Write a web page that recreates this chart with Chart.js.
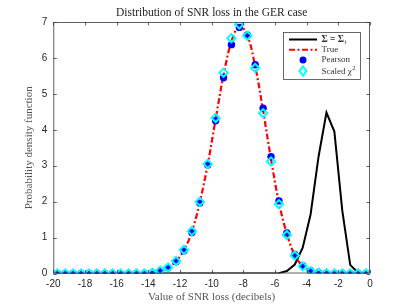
<!DOCTYPE html>
<html><head><meta charset="utf-8">
<script src="https://cdn.jsdelivr.net/npm/chart.js@4"></script>
<style>html,body{margin:0;padding:0;background:#fff;}#wrap{width:409px;height:307px;}</style>
</head><body><div id="wrap"><canvas id="c" width="409" height="307"></canvas></div>
<script>
// bin centres (dB)
const binCenters = [-19.75,-19.25,-18.75,-18.25,-17.75,-17.25,-16.75,-16.25,-15.75,-15.25,-14.75,-14.25,-13.75,-13.25,-12.75,-12.25,-11.75,-11.25,-10.75,-10.25,-9.75,-9.25,-8.75,-8.25,-7.75,-7.25,-6.75,-6.25,-5.75,-5.25,-4.75,-4.25,-3.75,-3.25,-2.75,-2.25,-1.75,-1.25,-0.75,-0.25];
const sigmaTrue = [0,0,0,0,0,0,0,0,0,0,0,0,0,0,0,0,0,0,0,0,0,0,0,0,0,0,0,0,0.01,0.07,0.25,0.72,1.65,3.25,4.48,3.95,1.75,0.24,0.02,0];
const trueVals  = [0,0,0,0,0,0,0,0,0,0,0,0,0.02,0.075,0.165,0.34,0.645,1.16,1.98,3.03,4.29,5.52,6.46,6.89,6.63,5.77,4.53,3.18,1.97,1.10,0.51,0.21,0.075,0.025,0.01,0,0,0,0,0];
const pearson   = [0,0,0,0,0,0,0,0,0,0,0,0,0.02,0.07,0.16,0.33,0.63,1.14,1.96,3.02,4.25,5.45,6.37,6.85,6.64,5.81,4.60,3.25,2.02,1.13,0.53,0.22,0.08,0.03,0.01,0,0,0,0,0];
const scaledChi = [0,0,0,0,0,0,0,0,0,0,0,0,0.02,0.08,0.17,0.35,0.66,1.18,2.00,3.05,4.33,5.59,6.55,6.93,6.62,5.72,4.46,3.12,1.93,1.07,0.50,0.20,0.07,0.02,0.01,0,0,0,0,0];
const xTicks = [-20,-18,-16,-14,-12,-10,-8,-6,-4,-2,0];
const yTicks = [0,1,2,3,4,5,6,7];
const titleText = 'Distribution of SNR loss in the GER case';
const xTitle = 'Value of SNR loss (decibels)';
const yTitle = 'Probability density function';

const pts = arr => binCenters.map((x,i)=>({x:x,y:arr[i]}));
const AX = '#262626';
const SERIF = '"Liberation Serif","DejaVu Serif",serif';
const SANS = '"Liberation Sans",Arial,sans-serif';

const decor = {
  id:'decor',
  afterDraw(chart){
    const ctx = chart.ctx, a = chart.chartArea;
    const xs = chart.scales.x, ys = chart.scales.y;
    ctx.save();
    // box
    ctx.strokeStyle = '#3a3a3a'; ctx.lineWidth = 0.8;
    ctx.strokeRect(a.left+0.5, a.top+0.5, a.right-a.left-1, a.bottom-a.top-1);
    // inward ticks
    ctx.beginPath();
    xTicks.forEach(v=>{const px=Math.round(xs.getPixelForValue(v))+0.5;
      ctx.moveTo(px,a.bottom); ctx.lineTo(px,a.bottom-3.5);
      ctx.moveTo(px,a.top); ctx.lineTo(px,a.top+3.5);});
    yTicks.forEach(v=>{const py=Math.round(ys.getPixelForValue(v))+0.5;
      ctx.moveTo(a.left,py); ctx.lineTo(a.left+3.5,py);
      ctx.moveTo(a.right,py); ctx.lineTo(a.right-3.5,py);});
    ctx.stroke();
    // titles
    ctx.fillStyle = '#222';
    ctx.font = '11.5px '+SERIF; ctx.textAlign='center'; ctx.textBaseline='middle';
    ctx.fillText(titleText, (a.left+a.right)/2, 13);
    ctx.fillStyle = '#555';
    ctx.font = '11px '+SERIF;
    ctx.fillText(xTitle, (a.left+a.right)/2, 297);
    ctx.save(); ctx.translate(29, (a.top+a.bottom)/2); ctx.rotate(-Math.PI/2);
    ctx.fillText(yTitle, 0, 0); ctx.restore();
    // legend
    const lx=283, ly=32, lw=77, lh=47;
    ctx.fillStyle='#fff'; ctx.fillRect(lx,ly,lw,lh);
    ctx.strokeStyle='#444'; ctx.lineWidth=0.8; ctx.strokeRect(lx+0.5,ly+0.5,lw,lh);
    const rows=[39.5,49.8,60,71];
    const sx0=289, sx1=317, tx=321.5;
    ctx.lineWidth=2; ctx.strokeStyle='#000'; ctx.setLineDash([]);
    ctx.beginPath(); ctx.moveTo(sx0,rows[0]); ctx.lineTo(sx1,rows[0]); ctx.stroke();
    ctx.strokeStyle='#ff0000'; ctx.setLineDash([6,2.5,2,2.5]);
    ctx.beginPath(); ctx.moveTo(sx0,rows[1]); ctx.lineTo(sx1,rows[1]); ctx.stroke();
    ctx.setLineDash([]);
    ctx.fillStyle='#0000ff'; ctx.beginPath(); ctx.arc(303,rows[2],3.5,0,Math.PI*2); ctx.fill();
    ctx.strokeStyle='#00ffff'; ctx.lineWidth=2;
    ctx.beginPath(); ctx.moveTo(303,rows[3]-4.5); ctx.lineTo(306.5,rows[3]); ctx.lineTo(303,rows[3]+4.5); ctx.lineTo(299.5,rows[3]); ctx.closePath(); ctx.stroke();
    ctx.fillStyle='#333'; ctx.textAlign='left'; ctx.textBaseline='middle';
    ctx.font='bold 9.5px '+SERIF;
    let t1='Σ = Σ'; ctx.fillText(t1,tx,rows[0]);
    let w1=ctx.measureText(t1).width;
    ctx.font='italic 6.5px '+SERIF; ctx.fillText('t',tx+w1+0.5,rows[0]+2.5);
    ctx.font='9px '+SERIF;
    ctx.fillText('True',tx,rows[1]);
    ctx.fillText('Pearson',tx,rows[2]);
    let t4='Scaled χ'; ctx.fillText(t4,tx,rows[3]+0.5);
    let w4=ctx.measureText(t4).width;
    ctx.font='6.5px '+SERIF; ctx.fillText('2',tx+w4+0.5,rows[3]-2.5);
    ctx.restore();
  }
};

new Chart(document.getElementById('c'),{
  type:'line',
  data:{datasets:[
    {label:'sigma',data:pts(sigmaTrue),borderColor:'#000',borderWidth:2,pointRadius:0,tension:0,order:4},
    {label:'True',data:pts(trueVals),borderColor:'#ff0000',borderWidth:2.2,borderDash:[6,2.5,2,2.5],pointRadius:0,tension:0.35,order:3},
    {label:'Pearson',data:pts(pearson),showLine:false,pointStyle:'circle',pointRadius:3.7,pointBackgroundColor:'#0000ff',pointBorderColor:'#0000ff',pointBorderWidth:0,order:2},
    {label:'Scaled',data:pts(scaledChi),showLine:false,pointStyle:'rectRot',pointRadius:4.1,pointBackgroundColor:'rgba(0,0,0,0)',pointBorderColor:'#00ffff',pointBorderWidth:2,order:1}
  ]},
  options:{
    responsive:false,animation:false,
    layout:{padding:{left:0,right:39,top:22,bottom:0}},
    plugins:{legend:{display:false},tooltip:{enabled:false},title:{display:false}},
    scales:{
      x:{type:'linear',min:-20,max:0,
        afterFit(s){s.height=33.5;},
        afterBuildTicks(s){s.ticks=xTicks.map(v=>({value:v}));},
        grid:{display:true,drawOnChartArea:false,drawTicks:false},
        border:{display:false},
        ticks:{padding:5,color:AX,font:{family:SANS,size:10},maxRotation:0,autoSkip:false}},
      y:{type:'linear',min:0,max:7,
        afterFit(s){s.width=53.3;},
        afterBuildTicks(s){s.ticks=yTicks.map(v=>({value:v}));},
        grid:{display:true,drawOnChartArea:false,drawTicks:false},
        border:{display:false},
        ticks:{padding:6,color:AX,font:{family:SANS,size:10},autoSkip:false}}
    }
  },
  plugins:[decor]
});
</script></body></html>
